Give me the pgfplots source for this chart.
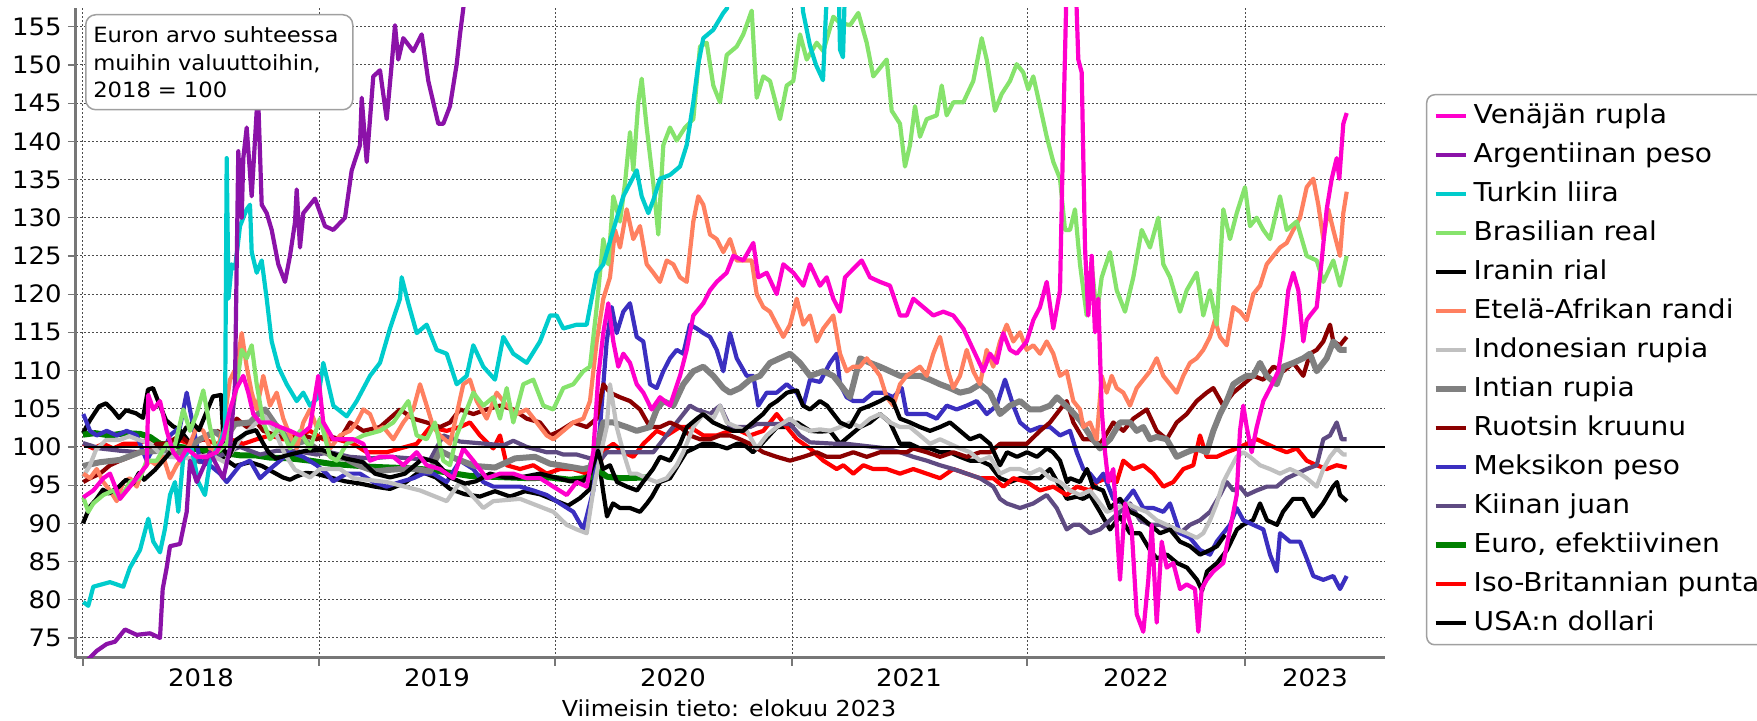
\documentclass[border=0pt]{standalone}
\usepackage{fontspec}
\setmainfont{DejaVu Sans}[FakeStretch=1.08]
\usepackage{pgfplots}
\pgfplotsset{compat=1.18}
\definecolor{rub}{HTML}{FF00CC}
\definecolor{ars}{HTML}{8B12A8}
\definecolor{try}{HTML}{00CCCC}
\definecolor{brl}{HTML}{86E36C}
\definecolor{zar}{HTML}{FF8060}
\definecolor{idr}{HTML}{C0C0C0}
\definecolor{inr}{HTML}{808080}
\definecolor{sek}{HTML}{8B0000}
\definecolor{mxn}{HTML}{3B2FC0}
\definecolor{cny}{HTML}{5F4B82}
\definecolor{eur}{HTML}{008000}
\definecolor{gbp}{HTML}{FF0000}
\definecolor{axgray}{HTML}{777777}
\definecolor{boxgray}{HTML}{A0A0A0}
\begin{document}
\begin{tikzpicture}
\useasboundingbox (0,0) rectangle (878.5pt,360.5pt);
\begin{axis}[
  at={(38pt,31.5pt)}, anchor=south west,
  scale only axis, width=654.5pt, height=325pt,
  xmin=76, xmax=1385, ymin=72.37, ymax=157.45,
  axis x line*=bottom, axis y line*=left,
  axis line style={draw=axgray, line width=1.5pt, -},
  ytick={75,80,...,155},
  xtick={83,319,555,792,1027,1245},
  xticklabels={},
  extra x ticks={201,437,673,909,1136,1315},
  extra x tick labels={2018,2019,2020,2021,2022,2023},
  extra x tick style={grid=none, major tick length=0pt},
  xmajorgrids, ymajorgrids,
  grid style={draw=black!70, line width=0.5pt, dash pattern=on 1pt off 1pt},
  tick align=outside,
  major tick length=4pt,
  tick style={draw=axgray, line width=0.6pt},
  tick label style={font=\fontsize{12}{14}\selectfont},
  /pgf/number format/assume math mode=true,
  yticklabel style={anchor=east, inner sep=0pt, xshift=-3pt},
  xticklabel style={anchor=base, inner sep=0pt, yshift=-14.5pt},
  legend style={at={(1.0313,0.8677)}, anchor=north west, draw=boxgray, line width=0.75pt,
    rounded corners=4pt, font=\fontsize{13}{15}\selectfont, inner xsep=3pt, inner ysep=1pt,
    row sep=0pt, nodes={inner sep=0pt, text height=13.5pt, text depth=6pt},
    /tikz/every odd column/.append style={column sep=2.5pt}},
  legend cell align=left,
  legend image code/.code={\draw[#1] (0pt,0pt) -- (15pt,0pt);},
  reverse legend,
  every axis plot/.append style={line width=2.1pt, line join=round},
]
% USA:n dollari
\addplot[black] coordinates {(83,101.8) (90,103.5) (99,105.3) (106,105.7) (113,104.8) (119,103.8) (126,104.8) (136,104.4) (143,103.8) (148,107.5) (153,107.7) (159,105.7) (166,103.5) (173,102.7) (180,102.2) (190,100.5) (200,99.5) (210,99) (224,98.5) (235,97.5) (250,98) (262,97.5) (276,96.5) (283,96) (290,95.7) (296,96.1) (306,96.6) (316,96.5) (330,96) (345,95.5) (360,95.2) (375,94.8) (390,94.5) (405,95.3) (420,96.8) (436,96) (450,94.5) (465,93.8) (480,93.5) (495,94.2) (510,93.5) (525,94.2) (540,93.8) (555,93) (568,92.3) (580,93.3) (590,94.5) (598,99) (603,94.3) (607,90.9) (613,92.6) (620,92) (630,92) (640,91.5) (647,92.6) (652,93.5) (660,95.4) (670,95.9) (686,99.3) (703,100.4) (713,100.4) (727,99.8) (737,100.4) (743,100.4) (753,99.3) (763,100.6) (777,102.6) (787,102.6) (797,103.2) (810,102.1) (820,102) (830,102.1) (840,100.4) (850,101.5) (860,102.6) (870,103.2) (880,104.3) (890,103.2) (900,100.4) (910,100.4) (920,99.8) (930,99.8) (940,99.3) (950,99.3) (960,98.7) (970,98.2) (980,98.2) (990,97.6) (1000,95.9) (1010,95.4) (1020,95.9) (1030,95.9) (1040,95.9) (1050,97.1) (1060,94.8) (1067,93.2) (1077,93.5) (1083,93.2) (1090,93.7) (1100,91.5) (1110,89.2) (1120,90.9) (1130,88.7) (1140,88.7) (1150,86.5) (1157,85.4) (1167,85.9) (1177,84.8) (1187,84.2) (1197,82.6) (1202,81.2) (1207,83.7) (1217,84.8) (1227,86.5) (1237,89.2) (1243,89.8) (1253,90.4) (1260,92.6) (1267,90.4) (1277,89.8) (1283,91.5) (1293,93.2) (1303,93.2) (1313,90.9) (1323,92.6) (1333,94.8) (1337,95.4) (1340,93.7) (1347,92.9)};
\addlegendentry{USA:n dollari}
% Iso-Britannian punta
\addplot[gbp] coordinates {(83.3,100.4) (93.3,99.8) (103.3,100.4) (113.3,99.8) (123.3,100.4) (136.7,100.4) (150,101) (163.3,100.4) (176.7,101) (190,100.4) (203.3,101) (216.7,100.4) (230,101) (243.3,100.4) (256.7,101) (270,101.5) (283.3,101) (296.7,101.5) (310,102.1) (323.3,101) (336.7,101) (353.3,100.4) (366.7,99.3) (386.7,99.3) (400,99.8) (416.7,100.4) (430,102.6) (446.7,102.1) (460,102.6) (470,103.2) (480,101.5) (493.3,99.8) (500,101.5) (506.7,97.6) (520,97.1) (533.3,97.6) (546.7,96.5) (560,97.1) (573.3,97.1) (586.7,96.5) (596.7,97.1) (606.7,99.8) (613.3,100.4) (623.3,99.3) (633.3,98.7) (643.3,100.4) (656.7,102.1) (666.7,101.5) (680,102.6) (690,102.6) (703.3,101.5) (716.7,101.5) (730,102.1) (740,102.1) (750,101.5) (763.3,102.1) (776.7,104.3) (786.7,102.6) (796.7,101) (810,99.8) (823.3,98.2) (836.7,97.1) (843.3,97.6) (853.3,96.5) (863.3,97.6) (873.3,97.1) (886.7,97.1) (900,96.5) (913.3,97.1) (926.7,96.5) (940,95.9) (953.3,97.1) (966.7,96.5) (980,95.9) (993.3,95.9) (1003.3,94.8) (1013.3,95.9) (1026.7,95.4) (1040,94.3) (1053.3,94.8) (1066.7,93.7) (1076.7,94.8) (1090,94.3) (1096.7,95.4) (1106.7,95.9) (1116.7,95.4) (1123.3,98.2) (1133.3,97.1) (1143.3,97.6) (1153.3,96.5) (1163.3,94.8) (1173.3,95.4) (1183.3,97.1) (1193.3,97.6) (1200,101.5) (1206.7,98.7) (1216.7,98.7) (1226.7,99.3) (1236.7,99.8) (1246.7,100.4) (1256.7,101) (1266.7,100.4) (1276.7,99.8) (1286.7,99.3) (1296.7,99.8) (1306.7,98.2) (1316.7,97.6) (1326.7,97.1) (1336.7,97.6) (1346.7,97.3)};
\addlegendentry{Iso-Britannian punta}
% Euro, efektiivinen
\addplot[eur, line width=3pt] coordinates {(83,101.6) (95,101.8) (110,101.5) (125,101.8) (140,101.7) (150,101.3) (160,100.4) (175,100.1) (190,99.8) (205,99.6) (224,99.2) (240,98.9) (255,98.9) (270,98.6) (290,98.5) (310,98.2) (330,97.8) (350,97.6) (370,97.4) (390,97.3) (410,97.2) (430,97) (450,96.6) (470,96.2) (490,96.1) (510,96) (530,95.9) (550,96) (570,95.7) (590,96) (598,97) (607,96.1) (620,95.9) (647,96)};
\addlegendentry{Euro, efektiivinen}
% Kiinan juan
\addplot[cny] coordinates {(83,100.5) (100,99.8) (120,99.5) (140,99.3) (160,99.5) (175,99) (190,98.5) (200,98) (215,98.5) (230,99.5) (240,100) (250,99.5) (260,99) (276.7,99.5) (290,99.5) (303.3,99.3) (316.7,99) (330,99.3) (350,98.7) (370,98.5) (390,98.7) (410,98.5) (430,98.3) (443.3,101.5) (460,100.7) (486.7,100.4) (503.3,100.2) (513.3,100.8) (526.7,100) (546.7,99.3) (556.7,99.3) (563.3,99) (576.7,99) (590,98.5) (596.7,98) (600,98.2) (606.7,99.3) (630,99.3) (653.3,99.3) (670,102.1) (690,105.4) (696.7,104.9) (710,104.3) (720,105.4) (730,102.6) (750,102.6) (756.7,103) (790,103) (800,101.5) (810,100.6) (836.7,100.4) (846.7,100.4) (860,100.2) (886.7,99.8) (900,99.3) (913.3,98.7) (926.7,98.2) (940,97.6) (953.3,97.1) (966.7,96.5) (980,95.9) (993.3,94.8) (1000,93.2) (1006.7,92.6) (1020,92) (1033.3,92.6) (1046.7,93.7) (1056.7,92) (1066.7,89.2) (1073.3,89.8) (1080,89.8) (1090,88.7) (1100,89.2) (1110,90.4) (1120,91.5) (1130,92.6) (1140,90.4) (1150,89.8) (1160,89.8) (1170,89.2) (1180,88.7) (1190,89.8) (1200,90.4) (1210,91.5) (1220,93.7) (1226.7,95.4) (1233.3,94.3) (1240,94.8) (1246.7,93.7) (1256.7,94.3) (1266.7,94.8) (1276.7,94.8) (1286.7,95.9) (1296.7,96.5) (1306.7,97.1) (1316.7,97.6) (1323.3,101) (1330,101.5) (1336.7,103.2) (1341.7,101) (1346.7,101)};
\addlegendentry{Kiinan juan}
% Meksikon peso
\addplot[mxn] coordinates {(83.3,104.3) (90,102.1) (96.7,101.5) (106.7,102.1) (116.7,101.5) (126.7,102.1) (136.7,101.5) (146.7,98.2) (153.3,99.8) (163.3,99.3) (170,101.5) (180,102.6) (186.7,107.1) (193.3,102.6) (200,98.2) (210,97.6) (220,96.5) (226.7,95.4) (233.3,96.5) (240,97.6) (250,98.2) (260,95.9) (270,97.1) (280,98.2) (290,99.3) (303.3,98.7) (316.7,97.6) (326.7,96.5) (333.3,95.5) (346.7,96.5) (360,96.5) (373.3,95.4) (386.7,94.8) (400,95.4) (413.3,95.9) (423.3,96.5) (433.3,96.5) (446.7,95.4) (460,98.2) (473.3,97.1) (483.3,95.4) (493.3,94.8) (506.7,94.8) (520,94.8) (533.3,94.3) (546.7,93.7) (560,92.6) (573.3,91.5) (583.3,89.2) (586.7,90.9) (593.3,94.3) (600,102.6) (606.7,113.8) (611.7,118.3) (616.7,114.9) (623.3,117.7) (630,118.8) (636.7,114.4) (643.3,113.8) (650,108.2) (656.7,107.7) (663.3,109.9) (670,111.6) (676.7,112.7) (683.3,112.2) (690,116) (696.7,115.5) (703.3,114.9) (710,114.4) (716.7,112.7) (723.3,109.9) (730,114.9) (736.7,111.6) (746.7,109.3) (753.3,109.3) (758.3,105.4) (766.7,107.1) (776.7,107.1) (786.7,108.2) (796.7,107.1) (803.3,105.4) (810,108.8) (820,108.5) (830,111) (836.7,112.2) (840,108.2) (846.7,106.5) (853.3,106) (863.3,106) (873.3,107.1) (883.3,107.1) (893.3,106.5) (901.7,107.7) (906.7,104.3) (916.7,104.3) (926.7,104.3) (936.7,103.7) (946.7,105.4) (956.7,104.9) (966.7,105.4) (976.7,106) (986.7,104.3) (996.7,105.4) (1005,108.8) (1013.3,105.4) (1020,103.2) (1030,102.1) (1040,102.6) (1050,102.6) (1060,101.5) (1070,102.1) (1076.7,99.3) (1083.3,97.1) (1090,96.5) (1096.7,95.4) (1103.3,96.5) (1113.3,93.2) (1123.3,92.6) (1133.3,94.3) (1143.3,92) (1153.3,92) (1163.3,91.5) (1170,92.6) (1180,88.7) (1190,88.1) (1200,86.5) (1210,85.9) (1216.7,87.6) (1223.3,88.7) (1230,89.8) (1236.7,92) (1243.3,90.4) (1253.3,89.8) (1263.3,89.2) (1270,85.9) (1276.7,83.7) (1280,88.7) (1290,87.6) (1300,87.6) (1306.7,85.4) (1313.3,83.1) (1323.3,82.6) (1333.3,83.1) (1340,81.4) (1346.7,83.1)};
\addlegendentry{Meksikon peso}
% Ruotsin kruunu
\addplot[sek] coordinates {(83.3,95.4) (90,95.9) (100,96.5) (110,97.6) (120,98.2) (130,98.7) (136.7,99.3) (146.7,99.3) (156.7,100.4) (166.7,100.4) (180,101.5) (190,100.4) (203.3,101) (216.7,102.1) (226.7,101.5) (236.7,103.7) (246.7,102.6) (256.7,103.2) (263.3,102.1) (276.7,101.5) (290,101) (303.3,101.5) (316.7,101) (326.7,101.5) (340,101) (350,103.2) (363.3,102.1) (380,102.6) (400,104.9) (413.3,103.7) (426.7,103.2) (440,102.6) (450,103.2) (460,104.9) (473.3,104.3) (486.7,104.9) (500,105.4) (513.3,104.9) (526.7,103.7) (540,103.2) (550,101.5) (560,102.1) (573.3,103.2) (586.7,102.6) (596.7,103.7) (600,106) (603.3,108.2) (610,107.1) (620,106.5) (630,106) (640,104.9) (650,102.6) (660,102.6) (670,103.2) (680,102.6) (690,101.5) (700,101) (710,101) (720,101.5) (730,101.5) (740,101) (750,100.4) (763.3,99.3) (776.7,98.7) (790,98.2) (803.3,98.7) (816.7,99.3) (826.7,98.7) (840,98.7) (853.3,99.3) (866.7,98.7) (880,99.3) (893.3,99.3) (906.7,99.3) (913.3,99.8) (926.7,99.3) (940,98.7) (953.3,99.3) (966.7,98.7) (980,99.3) (990,99.3) (1000,100.4) (1013.3,100.4) (1026.7,100.4) (1040,102.1) (1050,103.2) (1060,104.9) (1066.7,106) (1073.3,103.2) (1083.3,101) (1090,101) (1100,100.4) (1103.3,101) (1113.3,103.2) (1123.3,102.1) (1133.3,103.7) (1146.7,104.9) (1156.7,102.1) (1166.7,101) (1176.7,103.2) (1186.7,104.3) (1196.7,106) (1206.7,107.1) (1213.3,107.7) (1223.3,105.4) (1233.3,107.1) (1243.3,108.2) (1253.3,109.3) (1263.3,108.8) (1273.3,110.5) (1283.3,109.9) (1293.3,111) (1303.3,109.3) (1310,112.2) (1316.7,112.7) (1323.3,113.8) (1330,116) (1333.3,113.8) (1340,113.3) (1346.7,114.4)};
\addlegendentry{Ruotsin kruunu}
% Intian rupia
\addplot[inr, line width=3pt] coordinates {(83,97.5) (100,98) (120,98.3) (140,99.3) (160,99.5) (175,99) (190,100) (200,101) (215,102) (225,101) (235,103) (250,103.2) (258,104.3) (265,104.9) (275,103) (285,101.5) (295,100.4) (305,100.8) (316,99.8) (325,99.3) (335,98.7) (345,98.5) (360,97.5) (375,96.8) (390,97) (410,97.2) (430,96.8) (440,99.5) (455,98.5) (475,97.5) (495,97.3) (515,98.5) (535,98.7) (550,97.8) (565,97.5) (583,97.1) (590,97.3) (596.7,99.8) (603.3,103.2) (613.3,103.2) (626.7,102.6) (636.7,102.1) (650,102.6) (656.7,104.9) (663.3,106) (673.3,105.4) (683.3,108.2) (693.3,109.9) (703.3,110.5) (713.3,109.3) (723.3,107.7) (730,107.1) (740,107.7) (750,108.8) (760,109.3) (770,111) (780,111.6) (790,112.2) (800,111) (810,109.3) (823.3,109.9) (833.3,109.3) (840,108.2) (850,106.5) (860,111.6) (870,111) (880,110.5) (890,109.9) (900,109.3) (910,109.3) (920,109.3) (930,108.8) (940,108.2) (950,107.7) (960,107.1) (970,107.4) (980,108.2) (990,107.1) (1000,104.3) (1010,105.4) (1020,106) (1030,104.9) (1040,104.9) (1050,105.4) (1057,106.5) (1070,104.9) (1080,103.5) (1090,101.5) (1100,99.8) (1110,101) (1120,103.2) (1130,103.2) (1136.7,102.1) (1143.3,102.6) (1150,101) (1156.7,101.3) (1166.7,101) (1176.7,98.7) (1186.7,99.3) (1196.7,99.8) (1206.7,99.3) (1213.3,102.1) (1220,104.3) (1226.7,106) (1233.3,108.2) (1240,108.8) (1246.7,109.3) (1253.3,109.3) (1260,111) (1266.7,109.3) (1276.7,108.2) (1283.3,110.5) (1293.3,111) (1303.3,111.6) (1310,112.2) (1316.7,109.9) (1326.7,111.6) (1333.3,113.8) (1340,112.7) (1346.7,112.7)};
\addlegendentry{Intian rupia}
% Indonesian rupia
\addplot[idr] coordinates {(83,96.1) (89.3,97.4) (96,99.6) (106,100.9) (119.3,100.9) (129.3,101.4) (139.3,100.9) (149.3,100.5) (159.3,99.2) (169.3,98.7) (190,98.5) (210,99) (225,98) (240,101) (255,103) (265,104) (275,102) (285,99) (295,97) (310,96) (320,97.1) (340,97.1) (353.3,95.9) (386.7,95.4) (420,94.3) (446.7,92.9) (460,95.4) (483.3,92) (493.3,92.9) (520,93.2) (553.3,91.5) (566.7,89.8) (576.7,89.2) (586.7,88.7) (593.3,94.3) (600,98.7) (606.7,102.6) (610,108.2) (616.7,102.6) (623.3,99.3) (630,96.5) (636.7,96.5) (646.7,95.9) (656.7,95.4) (666.7,95.9) (676.7,97.6) (683.3,99.3) (693.3,102.6) (703.3,104.3) (713.3,103.7) (720,105.4) (726.7,103.2) (736.7,102.6) (746.7,102.1) (756.7,99.8) (766.7,101.5) (776.7,102.6) (790,103.7) (800,102.6) (810,102.1) (820,102.3) (830,102.1) (840,102.6) (850,103.2) (860,102.6) (870,103.7) (880,104.3) (890,103.2) (900,102.6) (910,102.6) (920,101.5) (930,100.4) (940,101) (950,100.4) (960,99.8) (970,99.3) (980,98.2) (990,98.7) (1000,96.5) (1010,97.1) (1020,97.1) (1030,96.5) (1040,97.1) (1050,95.9) (1060,95.4) (1070,94.3) (1080,93.7) (1090,94.3) (1100,92.6) (1106.7,91.5) (1116.7,92) (1126.7,92.6) (1136.7,92) (1146.7,91.5) (1156.7,90.4) (1166.7,89.8) (1176.7,89.2) (1186.7,88.7) (1196.7,88.1) (1203.3,88.7) (1210,90.4) (1216.7,92.6) (1223.3,95.4) (1230,97.1) (1236.7,98.7) (1243.3,99.3) (1250,98.7) (1260,97.6) (1270,97.1) (1280,96.5) (1290,97.1) (1300,96.5) (1306.7,95.9) (1316.7,94.8) (1323.3,97.1) (1330,98.7) (1336.7,99.8) (1343.3,99) (1346.7,99)};
\addlegendentry{Indonesian rupia}
% Etela-Afrikan randi
\addplot[zar] coordinates {(83.3,96.5) (90,95.9) (96.7,97.1) (103.3,95.4) (110,94.3) (116.7,92.9) (123.3,95.4) (130,95.9) (136.7,94.8) (143.3,97.1) (150,98.2) (156.7,97.6) (163.3,98.7) (170,95.9) (176.7,97.6) (183.3,98.7) (190,100.4) (196.7,102.6) (203.3,102.1) (210,99.8) (216.7,99.3) (223.3,102.6) (230,108.8) (236.7,110.5) (241.7,114.9) (246.7,110.5) (251.7,107.1) (256.7,104.9) (263.3,109.3) (270,105.4) (276.7,107.1) (283.3,103.7) (290,101.5) (296.7,99.8) (303.3,103.2) (310,104.9) (316.7,102.6) (323.3,103.2) (330,99.8) (340,101.5) (350,102.1) (356.7,103.2) (363.3,104.9) (370,104.3) (376.7,102.1) (383.3,102.6) (393.3,101) (403.3,103.2) (413.3,104.9) (420,108.2) (426.7,105.4) (433.3,102.6) (440,101.5) (450,100.4) (456.7,104.3) (463.3,108.2) (470,108.8) (476.7,106) (486.7,103.7) (496.7,107.1) (506.7,105.4) (516.7,104.3) (526.7,104.9) (536.7,103.2) (546.7,101.5) (553.3,101) (563.3,102.1) (573.3,103.2) (583.3,103.7) (590,106) (596.7,113.8) (603.3,119.4) (610,122.2) (615,128.4) (620,126.1) (626.7,131.1) (633.3,127.2) (640,128.9) (646.7,123.9) (653.3,122.8) (660,121.6) (666.7,124.4) (673.3,123.9) (680,122.2) (686.7,121.6) (693.3,129.5) (698.3,132.8) (703.3,131.7) (710,127.8) (716.7,127.2) (723.3,125.5) (730,127.2) (736.7,124.4) (743.3,124.4) (751.7,124.4) (756.7,120) (763.3,118.3) (770,117.7) (776.7,116) (783.3,114.4) (790,116) (796.7,119.4) (803.3,116) (810,117.2) (816.7,113.8) (823.3,115.5) (833.3,117.2) (840,112.2) (846.7,109.9) (853.3,110.5) (860,110.5) (866.7,111.6) (873.3,110.5) (880,109.3) (886.7,106.5) (893.3,105.4) (900,108.2) (906.7,109.3) (913.3,109.9) (920,110.5) (926.7,109.3) (933.3,112.2) (940,114.4) (946.7,110.5) (953.3,107.7) (960,109.3) (966.7,112.7) (973.3,109.9) (980,108.2) (986.7,112.7) (993.3,110.5) (1000,113.8) (1006.7,116) (1013.3,113.8) (1020,115) (1026.7,112.7) (1033.3,113.3) (1040,112.2) (1046.7,113.8) (1053.3,112.2) (1060,109.3) (1066.7,109.9) (1073.3,106) (1080,104.9) (1083.3,102.6) (1090,103.2) (1096.7,101) (1101.7,109.3) (1106.7,107.1) (1111.7,109.3) (1116.7,107.7) (1123.3,107.1) (1130,105.4) (1136.7,107.7) (1143.3,108.8) (1150,109.9) (1156.7,111.6) (1163.3,109.3) (1170,108.2) (1176.7,107.1) (1183.3,109.3) (1190,111) (1196.7,111.6) (1203.3,112.7) (1210,114.4) (1215,116.6) (1220,114.4) (1226.7,113.3) (1233.3,118.3) (1240,117.7) (1246.7,116.6) (1253.3,120) (1260,121.1) (1266.7,123.9) (1273.3,125) (1280,126.1) (1286.7,126.7) (1293.3,128.4) (1300,130) (1306.7,134) (1313.3,135.1) (1318.3,131.7) (1323.3,127.2) (1328.3,131.1) (1333.3,128.4) (1340,125) (1343.3,130.6) (1346.7,133.4)};
\addlegendentry{Etelä-Afrikan randi}
% Iranin rial
\addplot[black] coordinates {(83,90) (90,92.2) (96,93.1) (103,94.4) (109,93.9) (119,94.8) (126,95.7) (133,95.2) (139,96.6) (144,95.7) (155,97) (165,98.5) (175,100) (186,102.5) (193,103.1) (199,102.2) (206,104.4) (213,106.6) (221,106.8) (224,99.6) (229,98.7) (236,100.9) (246,101.8) (256,102.2) (263,100.5) (269,99.2) (276,98.5) (290,99) (306,99.5) (322,99.6) (335,99) (345,98.5) (363,98) (375,96.5) (390,96) (405,96.5) (423,98.5) (436,98) (450,96) (465,95.2) (476,95.5) (490,96.5) (505,96) (520,96) (540,96.5) (555,96) (570,95.5) (583,95.5) (590,96.5) (598,99.5) (603,97.1) (610,97.6) (617,95.4) (627,94.8) (637,94.3) (643,95.4) (653,97.1) (660,98.7) (670,98.2) (680,100.4) (687,102.6) (697,103.7) (703,104.3) (713,103.2) (723,102.6) (733,102.1) (743,102.1) (753,103.2) (763,104.3) (770,105.4) (777,106) (787,107.1) (797,107.4) (803,105.4) (810,104.9) (820,106) (827,105.4) (830,104.9) (840,103.2) (850,102.6) (860,104.9) (870,105.4) (880,106) (887,106.5) (893,106) (900,103.7) (910,103.2) (920,102.6) (930,102.1) (940,102.6) (950,103.2) (960,102.1) (970,101) (980,101.5) (990,100.4) (1000,97.6) (1007,99.3) (1017,98.7) (1027,99.3) (1037,98.7) (1047,99.8) (1053,99.3) (1060,98.2) (1067,95.4) (1070,95.9) (1080,95.4) (1087,97.1) (1093,94.8) (1103,94.3) (1110,92) (1120,93.2) (1130,91.5) (1140,90.9) (1150,89.8) (1160,88.7) (1170,89.2) (1180,87.6) (1190,87) (1200,85.9) (1210,86.5) (1217,87) (1225,88.5)};
\addlegendentry{Iranin rial}
% Brasilian real
\addplot[brl] coordinates {(83.3,93.4) (88.3,91.5) (93.3,92.6) (103.3,93.7) (113.3,94.3) (120,93.2) (130,95.4) (140,95.9) (146.7,98.2) (156.7,98.2) (166.7,100.4) (173.3,99.3) (183.3,104.9) (190,102.1) (196.7,104.3) (203.3,107.4) (210,102.6) (216.7,99.3) (226.7,100.4) (235,106.5) (241.7,112.7) (246.7,111.6) (251.7,113.3) (256.7,108.2) (263.3,103.2) (270,101) (280,102.6) (290,99.8) (300,102.1) (310,99.8) (320,103.7) (330,98.7) (336.7,98.2) (346.7,100.4) (363.3,101.5) (380,102.1) (393.3,103.2) (408.3,106) (416.7,101.5) (426.7,101) (435,103.2) (443.3,98.2) (450,97.6) (456.7,101.5) (463.3,103.7) (473.3,107.1) (483.3,105.4) (493.3,106.5) (500,103.7) (506.7,107.7) (513.3,103.2) (523.3,108.2) (533.3,108.8) (543.3,105.4) (553.3,104.9) (563.3,107.7) (573.3,108.2) (583.3,109.9) (590,110.5) (596.7,118.3) (603.3,127.2) (608.3,123.9) (613.3,132.8) (620,129.5) (625,134.5) (630,141.2) (633.3,136.2) (638.3,145.1) (641.7,148.2) (646.7,141.8) (653.3,134.5) (658.3,127.8) (663.3,139.5) (670,141.8) (676.7,140.1) (685,141.8) (693.3,142.9) (700,152.4) (706.7,152.9) (713.3,147.3) (720,145.1) (726.7,151.3) (736.7,152.4) (743.3,154) (751.7,157.1) (756.7,145.7) (763.3,148.5) (770,147.9) (780,142.9) (786.7,147.3) (793.3,147.9) (800,154) (806.7,150.7) (816.7,152.9) (823.3,151.8) (833.3,156.3) (840,155.5) (850,155.2) (858.3,156.8) (866.7,152.9) (873.3,148.5) (880,149.6) (886.7,150.7) (891.7,144) (900,142.3) (905,136.7) (910,139.5) (915,144.6) (920,140.6) (926.7,142.9) (936.7,143.4) (941.7,147.3) (946.7,143.4) (953.3,145.1) (963.3,145.1) (973.3,147.9) (981.7,153.5) (986.7,150.7) (995,144) (1001.7,146.2) (1010,147.9) (1016.7,150.1) (1023.3,149) (1028.3,146.8) (1033.3,148.5) (1040,144.6) (1046.7,140.6) (1053.3,137.3) (1060,135.1) (1065,128.4) (1070,128.4) (1075,131.1) (1080,123.9) (1086.7,117.2) (1091.7,123.9) (1096.7,117.2) (1101.7,122.2) (1110,125.5) (1116.7,120.5) (1125,117.7) (1133.3,122.2) (1141.7,128.4) (1150,126.1) (1158.3,130) (1163.3,123.9) (1170,122.2) (1180,117.7) (1186.7,120.5) (1196.7,122.8) (1203.3,117.2) (1210,120.5) (1216.7,116) (1223.3,131.1) (1230,127.2) (1236.7,130.6) (1245,134) (1250,128.9) (1256.7,130) (1263.3,128.4) (1270,127.2) (1280,132.8) (1286.7,128.4) (1296.7,129.5) (1306.7,125) (1316.7,124.4) (1323.3,121.6) (1333.3,124.4) (1340,121.1) (1346.7,125)};
\addlegendentry{Brasilian real}
% Turkin liira
\addplot[try] coordinates {(83.3,79.7) (88.3,79.2) (93.3,81.7) (110,82.3) (123.3,81.7) (130,84.2) (140,86.5) (148.3,90.6) (153.3,87.6) (160,86.2) (165,89.3) (170,93.7) (175,95.4) (178.3,91.5) (183.3,98.7) (191.7,99.8) (198.3,95.4) (205,93.7) (210,98.2) (220,100.4) (225,102.6) (226.7,137.8) (228.5,119.4) (231.7,123.9) (235,123.3) (240,128.9) (246.7,131.1) (250,131.7) (251.7,125.5) (256.7,122.8) (261.7,124.4) (266.7,119.4) (271.7,113.8) (278.3,110.5) (286.7,108.2) (296.7,106) (303.3,107.1) (310,105.4) (318.3,106.5) (323.3,111) (328.3,108.2) (333.3,105.4) (346.7,104) (356.7,106) (370,109.3) (380,111) (390,115.5) (400,119.4) (401.7,122.2) (408.3,118.8) (416.7,114.9) (426.7,116) (436.7,112.7) (446.7,112.2) (456.7,108.2) (466.7,109.3) (473.3,113.3) (483.3,110.5) (495,108.8) (503.3,114.4) (513.3,112.2) (526.7,111) (540,113.8) (550,117.2) (556.7,117.2) (563.3,115.5) (576.7,116) (586.7,116) (590,118.3) (596.7,122.8) (603.3,123.9) (613.3,128.4) (623.3,132.8) (636.7,136.2) (641.7,132.8) (648.3,130.6) (653.3,132.3) (660,135.1) (670,135.6) (680,136.7) (686.7,139.5) (693.3,145.1) (698.3,150.1) (703.3,153.5) (713.3,154.6) (723.3,156.8) (727,157.4) (730,165) (800,165) (803,157) (810,152.5) (816,150) (823,148) (826,157) (830,165) (838,165) (840,152) (843,151) (846,165) (850,170)};
\addlegendentry{Turkin liira}
% Argentiinan peso
\addplot[ars] coordinates {(83,71.5) (96.7,73.3) (106.7,74.2) (115,74.5) (125,76.1) (136.7,75.4) (150,75.6) (160,75) (162.7,81.4) (166.7,84.2) (170,87) (180,87.3) (186.7,91.5) (190,98.2) (196.7,95.4) (210,99.3) (223.3,95.9) (230,99.8) (235,108.2) (238.3,138.7) (241.7,130) (243.3,137.8) (246.7,141.8) (251.7,132.8) (256.7,144) (258.3,145.1) (261.7,131.7) (266.7,130.6) (271.7,128.4) (278.3,123.9) (285,121.6) (290,125) (295,129.4) (296.7,133.7) (300,126.1) (303.3,130.6) (315,132.5) (325,128.9) (333.3,128.4) (345,130) (351.7,136.2) (360,139.5) (361.7,145.7) (366.7,137.3) (373.3,148.5) (380,149.3) (386.7,142.9) (391.7,150.1) (395,155.2) (398.3,150.7) (403.3,153.5) (413.3,151.8) (421.7,154) (428.3,147.9) (438.3,142.3) (443.3,142.3) (450,144.6) (456.7,150.1) (460,154) (463.3,157.4) (470,165)};
\addlegendentry{Argentiinan peso}
% Venajan rupla
\addplot[rub] coordinates {(83.3,93.4) (93.3,94.3) (103.3,95.9) (110,96.5) (120,93.2) (130,94.8) (140,96.5) (146.7,97.6) (148.3,106.8) (153.3,104.9) (160,106) (166.7,102.1) (173.3,99.3) (180,98.2) (186.7,99.8) (196.7,98.7) (206.7,98.7) (216.7,99.3) (223.3,101) (230,104.9) (236.7,107.7) (243.3,109.3) (248.3,107.1) (253.3,104.3) (260,103.2) (270,103.2) (280,102.6) (290,102.1) (300,101.5) (310,102.6) (318.3,109.3) (323.3,103.2) (333.3,101) (340,101) (353.3,101) (363.3,100.4) (370,98.2) (380,98.7) (393.3,98.7) (403.3,97.6) (416.7,99.3) (426.7,97.6) (440,97.1) (453.3,95.9) (463.3,99.8) (473.3,98.2) (486.7,95.9) (500,96.5) (513.3,96.5) (526.7,95.9) (540,95.9) (553.3,94.8) (566.7,93.7) (576.7,95.4) (586.7,94.8) (593.3,99.3) (598.3,109.3) (603.3,114.9) (608.3,118.8) (613.3,113.8) (618.3,110.5) (623.3,112.2) (630,111) (636.7,108.2) (643.3,107.1) (651.7,104.9) (660,106.5) (670,105.4) (680,109.3) (686.7,112.7) (693.3,117.2) (703.3,118.8) (710,120.5) (716.7,121.6) (726.7,122.8) (733.3,125) (743.3,124.4) (753.3,126.7) (758.3,122.2) (766.7,122.8) (776.7,120) (783.3,123.9) (793.3,122.8) (803.3,121.1) (810,123.9) (820,121.1) (826.7,122.2) (833.3,119.4) (840,117.7) (845,122.2) (853.3,123.3) (861.7,124.4) (870,122.2) (880,121.6) (890,121.1) (900,117.2) (906.7,117.2) (913.3,119.4) (923.3,118.3) (933.3,117.2) (943.3,117.7) (953.3,117.2) (963.3,115.5) (973.3,112.7) (983.3,109.9) (990,112.2) (996.7,111) (1003.3,114.9) (1010,112.7) (1016.7,112.2) (1026.7,113.8) (1033.3,116.6) (1040,118.3) (1046.7,121.6) (1053.3,115.5) (1060,120.5) (1063.3,141.8) (1066,157) (1068,170) (1074,170) (1076.7,157) (1078.3,150.7) (1081.7,149) (1085,126.1) (1088.3,117.2) (1091.7,125) (1095,115) (1098.3,119.4) (1101.7,104.9) (1105,99.3) (1108.3,95.4) (1113.3,97.1) (1120,82.6) (1125,92.6) (1131.7,89.2) (1136.7,78.1) (1143.3,75.8) (1148.3,82.6) (1151.7,89.8) (1156.7,77) (1161.7,87.6) (1166.7,84.2) (1173.3,84.8) (1180,81.4) (1186.7,82) (1195,81.4) (1198.3,75.8) (1201.7,81.4) (1206.7,82.6) (1213.3,83.7) (1223.3,84.8) (1230,89.2) (1236.7,93.7) (1240,102.1) (1243.3,105.4) (1246.7,102.6) (1251.7,99.3) (1256.7,102.6) (1263.3,106) (1270,107.7) (1278.3,109.9) (1283.3,114.4) (1288.3,120.5) (1293.3,122.8) (1298.3,120.5) (1303.3,113.8) (1306.7,116.6) (1310,117.2) (1316.7,118.3) (1321.7,124.4) (1326.7,131.1) (1331.7,135.1) (1336.7,137.8) (1339.3,135.1) (1343.3,142.3) (1346.7,143.7)};
\addlegendentry{Venäjän rupla}
% reference line
\addplot[black, line width=1.4pt, forget plot] coordinates {(84,100) (1385,100)};
\end{axis}
\node[draw=boxgray, line width=0.75pt, rounded corners=5pt, fill=white, anchor=north west,
  align=left, inner xsep=3.5pt, inner ysep=3pt, minimum width=133.5pt, minimum height=47.5pt,
  text width=126pt, font=\fontsize{10.5}{13.75}\selectfont] at (42.5pt,353.5pt)
  {Euron arvo suhteessa\\muihin valuuttoihin,\\2018 = 100};
\node[anchor=base, inner sep=0pt, font=\fontsize{11}{13}\selectfont] at (364.5pt,2pt) {Viimeisin tieto: elokuu 2023};
\end{tikzpicture}
\end{document}
